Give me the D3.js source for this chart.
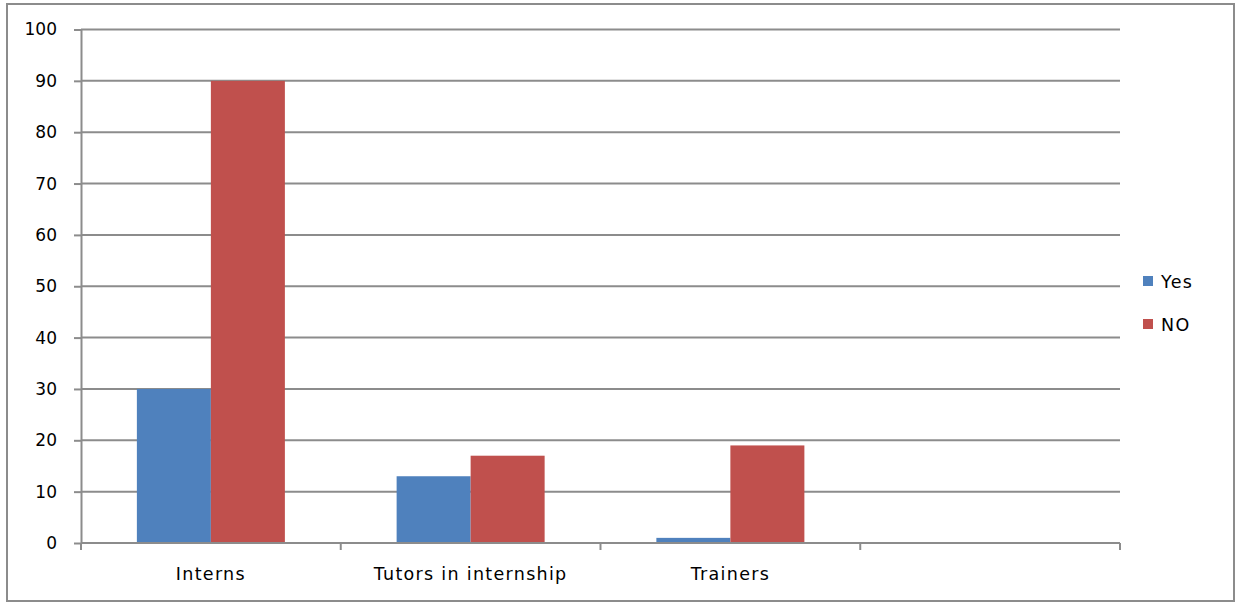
<!DOCTYPE html>
<html>
<head>
<meta charset="utf-8">
<script src="https://cdn.jsdelivr.net/npm/d3@7"></script>
<style>
  body { margin: 0; background: #fff; }
  text { font-family: "DejaVu Sans", sans-serif; fill: #000; }
</style>
</head>
<body>
<script>
var w = 1239;
var h = 602;

// data
var categories = ["Interns", "Tutors in internship", "Trainers", ""];
var seriesNames = ["Yes", "NO"];
var yesValues = [30, 13, 1, null];
var noValues = [90, 17, 19, null];
var yTicks = [0, 10, 20, 30, 40, 50, 60, 70, 80, 90, 100];
var colors = ["#4F81BD", "#C0504D"];

var margin = { left: 81, right: 1120, top: 29.5, bottom: 543 };

var svg = d3.select("body")
  .append("svg")
  .attr("width", w)
  .attr("height", h);

// outer frame
svg.append("rect")
  .attr("x", 7).attr("y", 4)
  .attr("width", 1227).attr("height", 597)
  .attr("fill", "none")
  .attr("stroke", "#8c8c8c")
  .attr("stroke-width", 2);

var x0 = d3.scaleBand()
  .domain(d3.range(categories.length))
  .range([margin.left, margin.right])
  .padding(0);

var x1 = d3.scaleBand()
  .domain(seriesNames)
  .range([0, x0.bandwidth()])
  .paddingInner(0)
  .paddingOuter(0.755);

var y = d3.scaleLinear()
  .domain([0, 100])
  .range([margin.bottom, margin.top]);

// gridlines
svg.selectAll("line.grid")
  .data(yTicks.slice(1))
  .enter()
  .append("line")
  .attr("class", "grid")
  .attr("x1", margin.left)
  .attr("x2", margin.right)
  .attr("y1", function(d) { return y(d); })
  .attr("y2", function(d) { return y(d); })
  .attr("stroke", "#8c8c8c")
  .attr("stroke-width", 2);

// bars
var rows = categories.map(function(c, i) {
  return [
    { s: "Yes", v: yesValues[i], i: i },
    { s: "NO", v: noValues[i], i: i }
  ];
});

svg.selectAll("g.cat")
  .data(rows)
  .enter()
  .append("g")
  .attr("class", "cat")
  .selectAll("rect")
  .data(function(d) { return d.filter(function(e) { return e.v != null; }); })
  .enter()
  .append("rect")
  .attr("x", function(d) { return x0(d.i) + x1(d.s); })
  .attr("y", function(d) { return y(d.v); })
  .attr("width", x1.bandwidth())
  .attr("height", function(d) { return y(0) - y(d.v); })
  .attr("fill", function(d) { return colors[seriesNames.indexOf(d.s)]; });

// y axis
var yAxis = svg.append("g")
  .attr("transform", "translate(" + margin.left + ",0)")
  .call(d3.axisLeft(y).tickValues(yTicks).tickSize(7).tickSizeOuter(0).tickPadding(17));
yAxis.selectAll("path, line").attr("stroke", "#8c8c8c").attr("stroke-width", 2);
yAxis.selectAll("text").attr("font-size", "17px").attr("fill", "#000")
  .style("font-family", "'DejaVu Sans', sans-serif");

// x axis
var xAxis = svg.append("g")
  .attr("transform", "translate(0," + margin.bottom + ")");
xAxis.append("line")
  .attr("x1", margin.left).attr("x2", margin.right)
  .attr("stroke", "#8c8c8c").attr("stroke-width", 2);
xAxis.selectAll("line.tick")
  .data(d3.range(categories.length + 1))
  .enter()
  .append("line")
  .attr("class", "tick")
  .attr("x1", function(d) { return margin.left + d * x0.step(); })
  .attr("x2", function(d) { return margin.left + d * x0.step(); })
  .attr("y1", 0).attr("y2", 7)
  .attr("stroke", "#8c8c8c").attr("stroke-width", 2);
xAxis.selectAll("text")
  .data(categories)
  .enter()
  .append("text")
  .attr("x", function(d, i) { return x0(i) + x0.bandwidth() / 2; })
  .attr("y", 37)
  .attr("text-anchor", "middle")
  .attr("font-size", "17.5px")
  .attr("letter-spacing", "1.3px")
  .text(function(d) { return d; });

// legend
var legend = svg.selectAll("g.legend")
  .data(seriesNames)
  .enter()
  .append("g")
  .attr("class", "legend")
  .attr("transform", function(d, i) { return "translate(1143," + (276 + i * 43) + ")"; });
legend.append("rect")
  .attr("width", 10).attr("height", 10)
  .attr("fill", function(d, i) { return colors[i]; });
legend.append("text")
  .attr("x", 18).attr("y", 12)
  .attr("font-size", "17.5px")
  .attr("letter-spacing", "1.3px")
  .text(function(d) { return d; });
</script>
</body>
</html>
